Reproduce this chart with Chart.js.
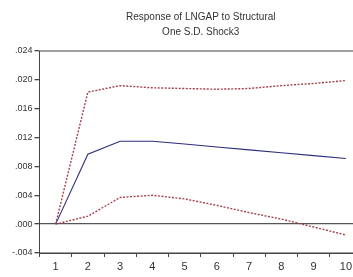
<!DOCTYPE html>
<html>
<head>
<meta charset="utf-8">
<script src="https://cdn.jsdelivr.net/npm/chart.js@4.4.1/dist/chart.umd.min.js"></script>
<style>
  html, body { margin: 0; padding: 0; background: #fff; overflow: hidden; }
  #wrap { width: 401px; height: 277px; }
</style>
</head>
<body>
<div id="wrap"><canvas id="irfChart" width="401" height="277"></canvas></div>
<script>
// Periode respon (1..10)
const periods = ["1", "2", "3", "4", "5", "6", "7", "8", "9", "10"];
// Respon LNGAP terhadap shock3
const response = [0.0, 0.0097, 0.0115, 0.0115, 0.0111, 0.0107, 0.0103, 0.0099, 0.0095, 0.0091];
// Batas atas dan bawah (+/- 2 S.E.)
const upperBand = [0.0, 0.0183, 0.0192, 0.0189, 0.0188, 0.0187, 0.0188, 0.0192, 0.0195, 0.0199];
const lowerBand = [0.0, 0.0011, 0.0037, 0.0040, 0.0035, 0.0026, 0.0016, 0.0007, -0.0004, -0.0015];
const titleLines = ["Response of LNGAP to Structural", "One S.D. Shock3"];

const axisColor = "#444";

// garis kotak atas/kanan plot
const frameBox = {
    id: "frameBox",
    afterDraw(chart) {
        const a = chart.chartArea;
        const ctx = chart.ctx;
        ctx.save();
        ctx.strokeStyle = axisColor;
        ctx.lineWidth = 1;
        ctx.strokeRect(a.left, a.top, a.right - a.left, a.bottom - a.top);
        ctx.restore();
    }
};

const ctx = document.getElementById("irfChart").getContext("2d");
new Chart(ctx, {
    type: "line",
    data: {
        labels: periods,
        datasets: [
            {
                data: upperBand,
                borderColor: "#a3404c",
                borderWidth: 1.4,
                borderDash: [2, 1.5],
                pointRadius: 0,
                tension: 0
            },
            {
                data: response,
                borderColor: "#2e2e7c",
                borderWidth: 1.1,
                pointRadius: 0,
                tension: 0
            },
            {
                data: lowerBand,
                borderColor: "#a3404c",
                borderWidth: 1.4,
                borderDash: [2, 1.5],
                pointRadius: 0,
                tension: 0
            }
        ]
    },
    options: {
        responsive: false,
        animation: false,
        layout: { padding: { left: 0, right: 39, top: 0, bottom: 0 } },
        plugins: {
            legend: { display: false },
            tooltip: { enabled: false },
            title: {
                display: true,
                fullSize: false,
                text: titleLines,
                color: "#333",
                font: { family: "Liberation Sans, Arial, sans-serif", size: 10, weight: "normal", lineHeight: 1.45 },
                padding: { top: 10, bottom: 12 }
            }
        },
        scales: {
            x: {
                offset: true,
                afterFit: (scale) => { scale.height = 24; },
                grid: {
                    offset: true,
                    drawOnChartArea: false,
                    tickLength: 4,
                    tickColor: axisColor
                },
                border: { color: axisColor, width: 1 },
                ticks: {
                    color: "#333",
                    padding: 3,
                    maxRotation: 0,
                    font: { family: "Liberation Sans, Arial, sans-serif", size: 11 }
                }
            },
            y: {
                min: -0.004,
                max: 0.024,
                afterFit: (scale) => { scale.width = 39.5; },
                grid: {
                    drawOnChartArea: true,
                    color: (c) => (c.tick && Math.abs(c.tick.value) < 1e-9 ? "#555" : "rgba(0,0,0,0)"),
                    lineWidth: 1.3,
                    tickLength: 5,
                    tickColor: axisColor
                },
                border: { color: axisColor, width: 1 },
                ticks: {
                    stepSize: 0.004,
                    color: "#333",
                    padding: 2,
                    font: { family: "Liberation Sans, Arial, sans-serif", size: 9 },
                    callback: (v) => Number(v).toFixed(3).replace("0.", ".")
                }
            }
        }
    },
    plugins: [frameBox]
});
</script>
</body>
</html>
